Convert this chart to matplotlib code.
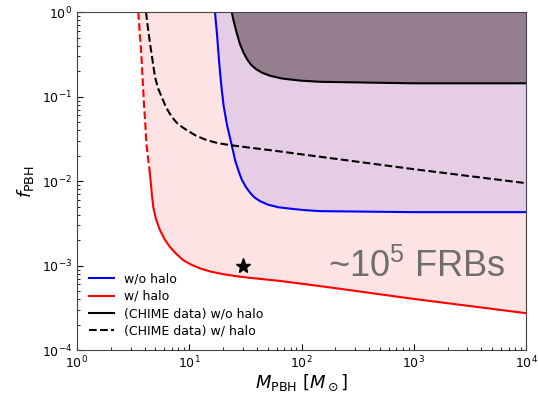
import matplotlib
matplotlib.use("Agg")
import matplotlib.pyplot as plt

# curves (M_PBH [Msun], f_PBH)
m_red = [3.52, 3.64, 3.77, 3.95, 4.18, 4.47, 4.61, 4.78, 5.06, 5.49, 6.03, 6.73,
         7.62, 8.85, 10.4, 12.5, 15.6, 20.1, 26.1, 34.8, 64.3, 200, 985, 1e4]
f_red = [1.0, 0.534, 0.27, 0.0838, 0.0255, 0.0123, 7.82e-3, 4.96e-3, 3.55e-3,
         2.63e-3, 2.06e-3, 1.67e-3, 1.39e-3, 1.16e-3, 1.03e-3, 9.27e-4, 8.49e-4,
         7.93e-4, 7.51e-4, 7.17e-4, 6.6e-4, 5.42e-4, 4.05e-4, 2.74e-4]
red_dash_until = 6  # first points of the red curve are dashed

m_blue = [16.96, 17.7, 18.4, 19.2, 20.2, 21.7, 23.9, 25.6, 27.7, 29.5, 32.0, 34.8,
          37.8, 42.7, 50.3, 61.8, 79.0, 107, 146, 985, 1e4]
f_blue = [1.0, 0.534, 0.27, 0.144, 0.0793, 0.046, 0.0267, 0.0177, 0.0128, 0.0103,
          0.0085, 0.00731, 0.00647, 0.0058, 0.00527, 0.00492, 0.00473, 0.00454,
          0.00442, 0.0043, 0.0043]

m_chime = [23.9, 25.0, 26.5, 28.3, 30.3, 32.7, 35.5, 39.3, 44.5, 52.4, 67.0, 97.0,
           146, 985, 1e4]
f_chime = [1.0, 0.761, 0.564, 0.418, 0.336, 0.278, 0.239, 0.212, 0.192, 0.177,
           0.164, 0.155, 0.15, 0.144, 0.144]

m_chime_halo = [4.12, 4.29, 4.47, 4.71, 4.95, 5.27, 5.68, 6.21, 6.98, 7.94, 9.49,
                11.5, 14.3, 18.0, 23.1, 34.8, 52.4, 985, 1e4]
f_chime_halo = [1.0, 0.647, 0.43, 0.27, 0.172, 0.126, 0.0995, 0.0751, 0.0577,
                0.0473, 0.0402, 0.0345, 0.0306, 0.0282, 0.0267, 0.0249, 0.0233,
                0.0139, 0.00947]

star_m, star_f = 30, 1e-3

fig = plt.figure(figsize=(5.38, 3.93), dpi=100)
ax = fig.add_axes([0.143, 0.109, 0.835, 0.860])

# shaded excluded regions
ax.fill_between(m_red, f_red, 1, color="#fde3e3", lw=0)
ax.fill_between(m_blue, f_blue, 1, color="#e6cde6", lw=0)
ax.fill_between(m_chime, f_chime, 1, color="#967e91", lw=0)

ax.plot(m_red[:red_dash_until], f_red[:red_dash_until], color="red", ls="--", lw=1.5)
ax.plot(m_red[red_dash_until - 1:], f_red[red_dash_until - 1:], color="red", lw=1.5)
ax.plot(m_blue, f_blue, color="blue", lw=1.5)
ax.plot(m_chime, f_chime, color="black", lw=1.5)
ax.plot(m_chime_halo, f_chime_halo, color="black", ls="--", lw=1.5)
ax.plot(star_m, star_f, marker="*", color="black", ms=11, ls="none")

# legend handles
ax.plot([], [], color="blue", lw=1.5, label="w/o halo")
ax.plot([], [], color="red", lw=1.5, label="w/ halo")
ax.plot([], [], color="black", lw=1.5, label="(CHIME data) w/o halo")
ax.plot([], [], color="black", ls="--", lw=1.5, label="(CHIME data) w/ halo")
h, l = ax.get_legend_handles_labels()
ax.legend(h[-4:], l[-4:], loc="lower left", frameon=False, fontsize=9,
          handlelength=2.0, labelspacing=0.35, borderaxespad=0.6)

ax.text(0.955, 0.245, r"~$\mathdefault{10^{5}}$ FRBs", transform=ax.transAxes,
        ha="right", va="center", fontsize=26, color="#6e6e6e",
        family="Liberation Sans")

ax.set_xscale("log")
ax.set_yscale("log")
ax.set_xlim(1, 1e4)
ax.set_ylim(1e-4, 1)
ax.set_xlabel(r"$M_{\rm PBH}$ [$M_\odot$]", fontsize=13, labelpad=1)
ax.set_ylabel(r"$f_{\rm PBH}$", fontsize=13)
ax.tick_params(which="both", direction="in", labelsize=9)
ax.tick_params(which="major", length=4)
ax.tick_params(which="minor", length=2)
for s in ax.spines.values():
    s.set_color("#444444")

fig.savefig("out.png", dpi=100)
